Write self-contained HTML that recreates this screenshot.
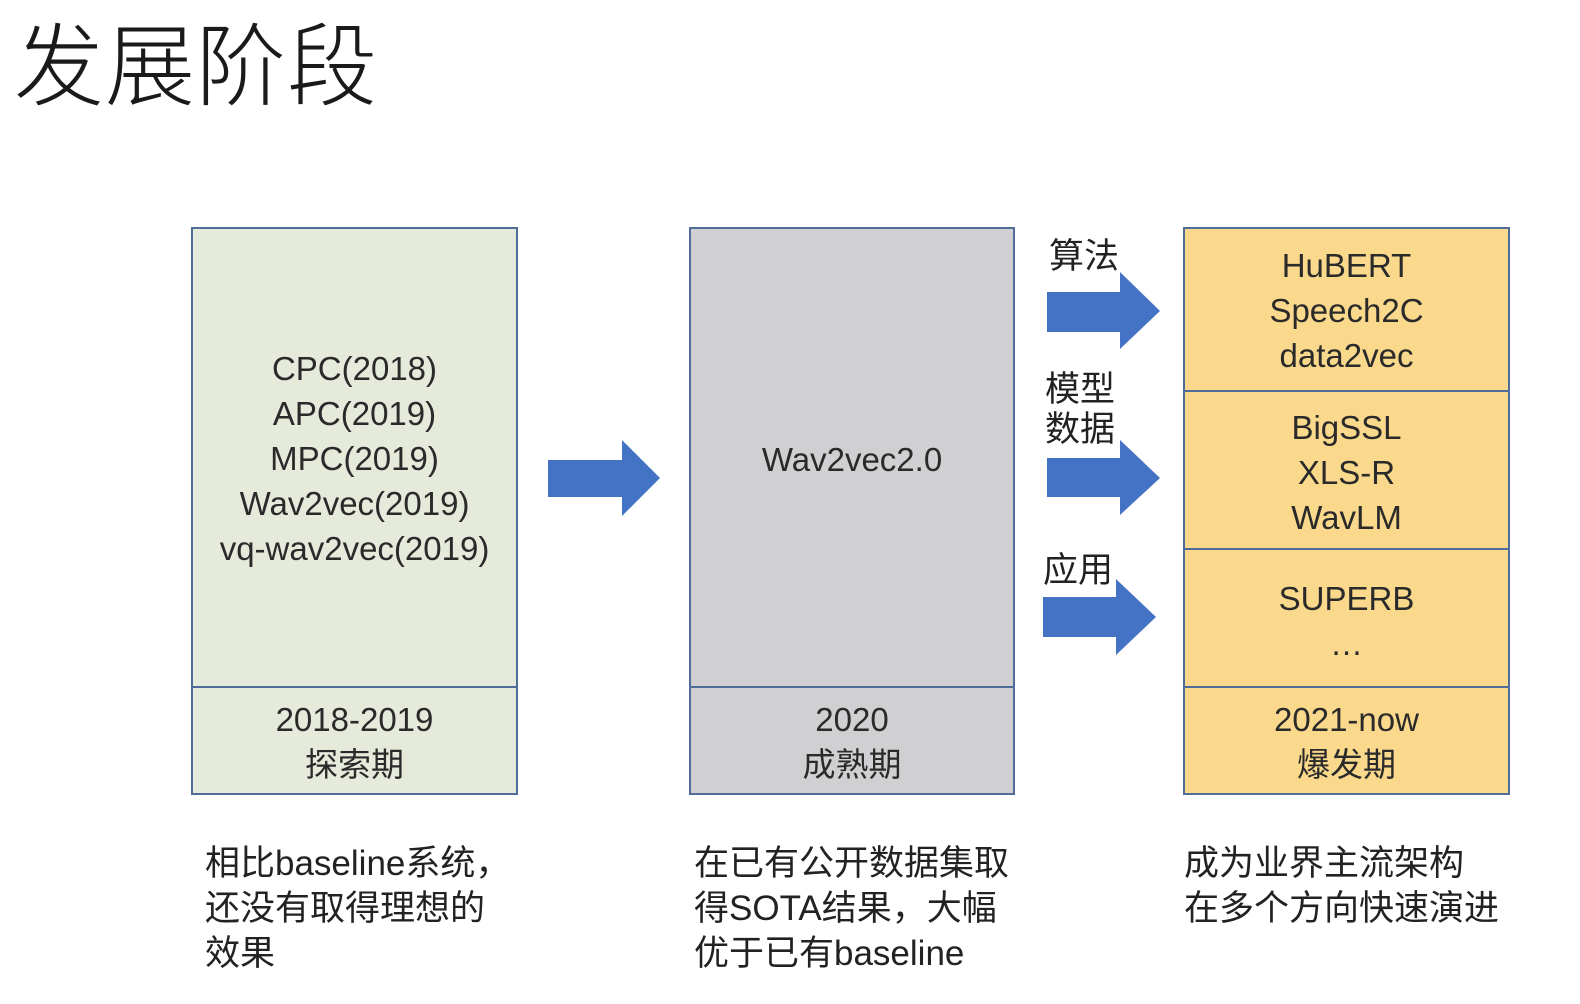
<!DOCTYPE html>
<html><head><meta charset="utf-8"><style>
body{margin:0;width:1580px;height:1004px;background:#fff;position:relative;overflow:hidden;font-family:"Liberation Sans","Noto Sans CJK SC",sans-serif;color:#2a2a2a}
.a{position:absolute}
.box{position:absolute;border:2px solid #4f6d98;box-sizing:border-box}
.c{position:absolute;left:0;right:0;text-align:center;font-size:33px;line-height:45px}
.t{position:absolute;font-size:35px;line-height:45px;color:#222}
.lbl{position:absolute;font-size:35px;line-height:40px;color:#222}
</style></head><body>
<div class="a" style="left:14px;top:18px;font-size:90px;line-height:100px;font-weight:300;color:#1a1a1a;letter-spacing:1px">发展阶段</div>

<div class="box" style="left:191px;top:227px;width:327px;height:568px;background:#e5eadb"></div>
<div class="a" style="left:191px;top:686px;width:327px;height:2px;background:#4f6d98"></div>
<div class="c" style="left:191px;width:327px;top:346px;right:auto">CPC(2018)<br>APC(2019)<br>MPC(2019)<br>Wav2vec(2019)<br>vq-wav2vec(2019)</div>
<div class="c" style="left:191px;width:327px;top:697px;right:auto">2018-2019<br>探索期</div>

<div class="box" style="left:689px;top:227px;width:326px;height:568px;background:#d0cfd2"></div>
<div class="a" style="left:689px;top:686px;width:326px;height:2px;background:#4f6d98"></div>
<div class="c" style="left:689px;width:326px;top:437px;right:auto">Wav2vec2.0</div>
<div class="c" style="left:689px;width:326px;top:697px;right:auto">2020<br>成熟期</div>

<div class="box" style="left:1183px;top:227px;width:327px;height:568px;background:#fbd98c"></div>
<div class="a" style="left:1183px;top:390px;width:327px;height:2px;background:#4f6d98"></div>
<div class="a" style="left:1183px;top:548px;width:327px;height:2px;background:#4f6d98"></div>
<div class="a" style="left:1183px;top:686px;width:327px;height:2px;background:#4f6d98"></div>
<div class="c" style="left:1183px;width:327px;top:243px;right:auto">HuBERT<br>Speech2C<br>data2vec</div>
<div class="c" style="left:1183px;width:327px;top:405px;right:auto">BigSSL<br>XLS-R<br>WavLM</div>
<div class="c" style="left:1183px;width:327px;top:576px;right:auto">SUPERB<br>…</div>
<div class="c" style="left:1183px;width:327px;top:697px;right:auto">2021-now<br>爆发期</div>

<svg class="a" style="left:0;top:0" width="1580" height="1004">
<g fill="#4472c4">
<polygon points="548,460 622,460 622,440 660,478 622,516 622,497 548,497"/>
<polygon points="1047,292 1120,292 1120,272 1160,311 1120,349 1120,332 1047,332"/>
<polygon points="1047,458 1120,458 1120,440 1160,478 1120,515 1120,497 1047,497"/>
<polygon points="1043,597 1116,597 1116,579 1156,617 1116,655 1116,637 1043,637"/>
</g></svg>
<div class="lbl" style="left:1049px;top:237px">算法</div>
<div class="lbl" style="left:1045px;top:370px">模型<br>数据</div>
<div class="lbl" style="left:1043px;top:551px">应用</div>

<div class="t" style="left:205px;top:841px">相比baseline系统，<br>还没有取得理想的<br>效果</div>
<div class="t" style="left:694px;top:841px">在已有公开数据集取<br>得SOTA结果，大幅<br>优于已有baseline</div>
<div class="t" style="left:1184px;top:841px">成为业界主流架构<br>在多个方向快速演进</div>
</body></html>
